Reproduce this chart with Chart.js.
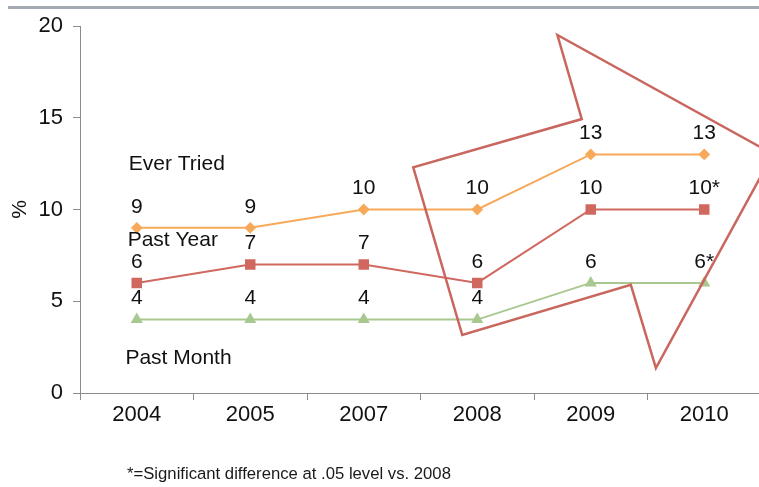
<!DOCTYPE html>
<html>
<head>
<meta charset="utf-8">
<script src="https://cdn.jsdelivr.net/npm/chart.js@4.4.0/dist/chart.umd.min.js"></script>
<style>
  html, body { margin: 0; padding: 0; background: #fff; overflow: hidden; }
  #wrap { position: relative; width: 759px; height: 487px; overflow: hidden; }
  #topRule { position: absolute; left: 8px; right: 0; top: 6px; height: 3px; background: #a3aab2; }
  #chart { position: absolute; left: 0; top: 0; }
  #note { position: absolute; left: 127px; top: 464px; font: 16.7px "Liberation Sans", Arial, sans-serif; line-height: 19px; color: #1a1a1a; }
</style>
</head>
<body>
<div id="wrap">
  <div id="topRule"></div>
  <canvas id="chart" width="769" height="487"></canvas>
  <div id="note">*=Significant difference at .05 level vs. 2008</div>
</div>
<script>
const years = ["2004", "2005", "2007", "2008", "2009", "2010"];
const everTried = [9, 9, 10, 10, 13, 13];
const pastYear = [6, 7, 7, 6, 10, 10];
const pastMonth = [4, 4, 4, 4, 6, 6];
// "*" = significant vs. 2008
const pastYearMarks = ["", "", "", "", "", "*"];
const pastMonthMarks = ["", "", "", "", "", "*"];
const yTicks = [0, 5, 10, 15, 20];

// series captions, placed in axis units (category index, %)
const captionText = ["Ever Tried", "Past Year", "Past Month"];
const captionX = [-0.07, -0.08, -0.1];
const captionY = [12.48, 8.34, 1.88];

// big outlined arrow over 2008-2010, in axis units
const arrowX = [3.706, 3.921, 2.436, 2.868, 4.353, 4.574, 5.606];
const arrowY = [19.51, 14.93, 12.30, 3.16, 5.89, 1.36, 13.02];

const FONT = '"Liberation Sans", Arial, sans-serif';
const AXIS = "#8c8c8c";

const pointLabels = {
  id: "pointLabels",
  afterDatasetsDraw(chart) {
    const { ctx } = chart;
    ctx.save();
    ctx.font = `21px ${FONT}`;
    ctx.fillStyle = "#111";
    ctx.textAlign = "center";
    ctx.textBaseline = "middle";
    chart.data.datasets.forEach((ds, i) => {
      chart.getDatasetMeta(i).data.forEach((pt, j) => {
        const mark = ds.marks ? ds.marks[j] : "";
        ctx.fillText(ds.data[j] + mark, pt.x, pt.y - 21);
      });
    });
    ctx.restore();
  },
};

const captions = {
  id: "captions",
  afterDatasetsDraw(chart) {
    const { ctx, scales: { x, y } } = chart;
    ctx.save();
    ctx.font = `21px ${FONT}`;
    ctx.fillStyle = "#111";
    ctx.textAlign = "left";
    ctx.textBaseline = "middle";
    captionText.forEach((t, i) => {
      ctx.fillText(t, x.getPixelForValue(captionX[i]), y.getPixelForValue(captionY[i]));
    });
    ctx.restore();
  },
};

const arrowShape = {
  id: "arrowShape",
  afterDraw(chart) {
    const { ctx, scales: { x, y } } = chart;
    ctx.save();
    ctx.strokeStyle = "#c9665e";
    ctx.lineWidth = 2.5;
    ctx.beginPath();
    arrowX.forEach((v, i) => {
      const px = x.getPixelForValue(v);
      const py = y.getPixelForValue(arrowY[i]);
      if (i === 0) ctx.moveTo(px, py);
      else ctx.lineTo(px, py);
    });
    ctx.closePath();
    ctx.stroke();
    ctx.restore();
  },
};

new Chart(document.getElementById("chart"), {
  type: "line",
  data: {
    labels: years,
    datasets: [
      {
        label: "Ever Tried", data: everTried,
        borderColor: "#f7a95a", backgroundColor: "#f7a95a",
        borderWidth: 2, pointStyle: "rectRot", pointRadius: 4.5,
      },
      {
        label: "Past Year", data: pastYear, marks: pastYearMarks,
        borderColor: "#d0685f", backgroundColor: "#d0685f",
        borderWidth: 2, pointStyle: "rect", pointRadius: 6,
      },
      {
        label: "Past Month", data: pastMonth, marks: pastMonthMarks,
        borderColor: "#a8c88f", backgroundColor: "#a8c88f",
        borderWidth: 2, pointStyle: "triangle", pointRadius: 5,
      },
    ],
  },
  options: {
    responsive: false,
    animation: false,
    layout: { padding: { top: 26, left: 0, right: 0, bottom: 0 } },
    plugins: { legend: { display: false }, tooltip: { enabled: false } },
    scales: {
      x: {
        offset: true,
        grid: { offset: true, drawOnChartArea: false, tickLength: 7, color: AXIS },
        border: { color: AXIS },
        ticks: { font: { family: FONT, size: 22 }, color: "#111", padding: 2 },
        afterFit: (s) => { s.height = 94; },
      },
      y: {
        min: 0,
        max: 20,
        afterBuildTicks: (s) => { s.ticks = yTicks.map((v) => ({ value: v })); },
        grid: { drawOnChartArea: false, tickLength: 7, color: AXIS },
        border: { color: AXIS },
        ticks: { font: { family: FONT, size: 22 }, color: "#111", padding: 10 },
        title: { display: true, text: "%", font: { family: FONT, size: 21 }, color: "#111", padding: { top: 8, bottom: 8 } },
        afterFit: (s) => { s.width = 80; },
      },
    },
  },
  plugins: [pointLabels, captions, arrowShape],
});
</script>
</body>
</html>
